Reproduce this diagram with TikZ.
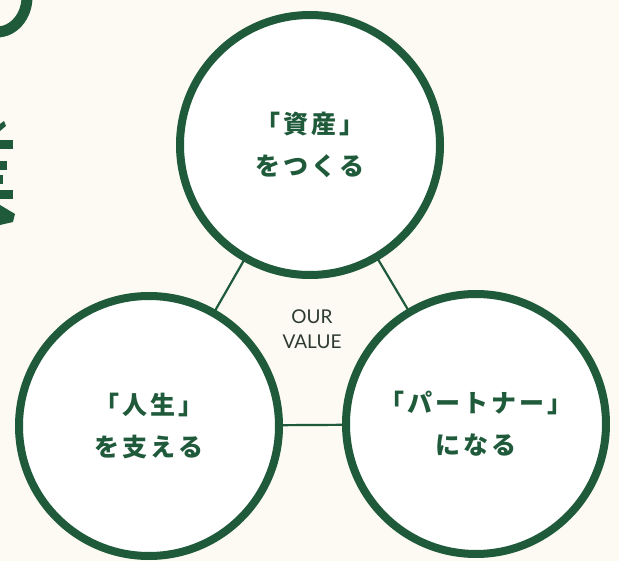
\documentclass[tikz,border=0pt]{standalone}
\usepackage{fontspec}
\newfontfamily\jp[LetterSpace=12]{Noto Sans CJK JP}
\newfontfamily\latinsans{Lato}
\definecolor{dgreen}{HTML}{1F5A3B}
\definecolor{paper}{HTML}{FCFAF2}
\definecolor{labelgray}{HTML}{2E3A32}
\begin{document}
\begin{tikzpicture}[x=1pt,y=-1pt,
  ring/.style={circle, draw=dgreen, fill=white, line width=8pt, minimum size=260pt,
    inner sep=0pt, outer sep=0pt, align=center, text=dgreen,
    font=\jp\bfseries\fontsize{25}{42}\selectfont},
  link/.style={draw=dgreen, line width=2.2pt},
  frag/.style={fill=dgreen, draw=none}]
\fill[paper] (0,0) rectangle (619,561);
\useasboundingbox (0,0) rectangle (619,561);
% fragments of large heading cut at the left edge
\draw[dgreen, line width=11pt] (-3,-3) ellipse [x radius=30, y radius=35];
\fill[frag] (0,124) -- (4,121) -- (6,126) -- (0,131) -- cycle;
\fill[frag] (0,140) rectangle (13,149);
\fill[frag] (0,161) rectangle (7,170);
\fill[frag] (0,175) rectangle (3,184);
\fill[frag] (0,190) rectangle (13,199);
\fill[frag] (0,205) -- (15,214) -- (13,222) -- (0,225) -- cycle;
% circles
\node[ring] (top) at (310,145) {「資産」\\をつくる};
\node[ring] (left) at (149,426) {「人生」\\を支える};
\node[ring] (right) at (476,424) {「パートナー」\\になる};
\draw[link] (top) -- (left);
\draw[link] (top) -- (right);
\draw[link] (left) -- (right);
\node[align=center, text=labelgray, font=\latinsans\fontsize{19}{25}\selectfont] (ourvalue) at (312,329) {OUR\\VALUE};
\end{tikzpicture}
\end{document}
